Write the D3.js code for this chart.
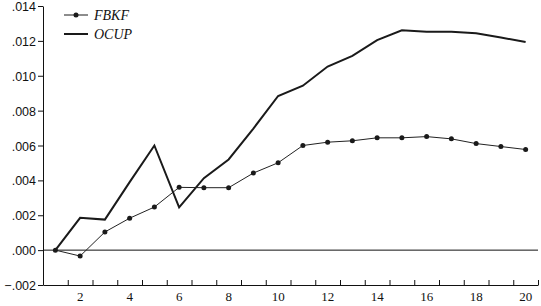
<!DOCTYPE html>
<html>
<head>
<meta charset="utf-8">
<script src="https://cdn.jsdelivr.net/npm/d3@7"></script>
<style>
  body { margin: 0; background: #fff; }
  svg { display: block; font-family: "Liberation Serif", "DejaVu Serif", serif; }
</style>
</head>
<body>
<div id="chart"></div>
<script>
// periods 1..20
const periods = d3.range(1, 21)
const fbkf = [0.0000, -0.00034, 0.00104, 0.00183, 0.00247, 0.00360, 0.00358, 0.00358, 0.00442, 0.00501,
  0.00600, 0.00619, 0.00627, 0.00644, 0.00644, 0.00651, 0.00638, 0.00611, 0.00594, 0.00577]
const ocup = [0.0000, 0.00185, 0.00175, 0.00390, 0.00600, 0.00245, 0.00413, 0.00520, 0.00697, 0.00884,
  0.00943, 0.01053, 0.01114, 0.01204, 0.01261, 0.01253, 0.01253, 0.01244, 0.01219, 0.01194]
const yTicks = [-0.002, 0, 0.002, 0.004, 0.006, 0.008, 0.010, 0.012, 0.014]
const xLabels = [2, 4, 6, 8, 10, 12, 14, 16, 18, 20]
const seriesNames = ['FBKF', 'OCUP']

const width = 541
const height = 306
const margin = { top: 6, right: 3, bottom: 21, left: 43 }

const svg = d3.select('#chart').append('svg')
  .attr('width', width)
  .attr('height', height)

const x = d3.scaleLinear()
  .domain([0.5, 20.5])
  .range([margin.left, width - margin.right])

const y = d3.scaleLinear()
  .domain([-0.002, 0.014])
  .range([height - margin.bottom, margin.top])

const fmt = d => {
  if (d === 0) return '.000'
  const s = d3.format('.3f')(Math.abs(d)).replace(/^0/, '')
  return d < 0 ? '\u2212' + s : s
}

// y axis
const yAxis = svg.append('g')
  .attr('transform', `translate(${margin.left},0)`)
  .call(d3.axisLeft(y).tickValues(yTicks).tickFormat(fmt).tickSize(5).tickSizeOuter(0))
yAxis.select('.domain').attr('stroke', '#111')
yAxis.selectAll('.tick line').attr('stroke', '#111')
yAxis.selectAll('.tick text')
  .attr('x', -7)
  .attr('dy', '0.36em')
  .style('font-size', '12.5px')
  .attr('fill', '#111')

// x axis: ticks at band boundaries, labels at even periods
const xAxis = svg.append('g')
  .attr('transform', `translate(0,${y(-0.002)})`)
  .call(d3.axisBottom(x).tickValues(d3.range(0.5, 21, 1)).tickFormat('').tickSize(-5).tickSizeOuter(0))
xAxis.select('.domain').attr('stroke', '#111')
xAxis.selectAll('.tick line').attr('stroke', '#111')

svg.append('g').selectAll('text')
  .data(xLabels)
  .join('text')
  .attr('x', d => x(d))
  .attr('y', y(-0.002) + 16)
  .attr('text-anchor', 'middle')
  .style('font-size', '13px')
  .attr('fill', '#111')
  .text(d => d)

// zero line
svg.append('line')
  .attr('x1', x(0.5))
  .attr('x2', x(20.5))
  .attr('y1', y(0))
  .attr('y2', y(0))
  .attr('stroke', '#111')
  .attr('stroke-width', 1)

const line = d3.line()
  .x((d, i) => x(periods[i]))
  .y(d => y(d))

svg.append('path')
  .datum(ocup)
  .attr('d', line)
  .attr('fill', 'none')
  .attr('stroke', '#1a1a1a')
  .attr('stroke-width', 2)

svg.append('path')
  .datum(fbkf)
  .attr('d', line)
  .attr('fill', 'none')
  .attr('stroke', '#222')
  .attr('stroke-width', 1)

svg.append('g').selectAll('circle')
  .data(fbkf)
  .join('circle')
  .attr('cx', (d, i) => x(periods[i]))
  .attr('cy', d => y(d))
  .attr('r', 2.5)
  .attr('fill', '#1a1a1a')

// legend
const legend = svg.append('g')
seriesNames.forEach((name, i) => {
  const ly = 15 + i * 19
  legend.append('line')
    .attr('x1', 64).attr('x2', 88)
    .attr('y1', ly).attr('y2', ly)
    .attr('stroke', '#1a1a1a')
    .attr('stroke-width', i === 0 ? 1 : 2)
  if (i === 0) {
    legend.append('circle').attr('cx', 76).attr('cy', ly).attr('r', 2.5).attr('fill', '#1a1a1a')
  }
  legend.append('text')
    .attr('x', 94)
    .attr('y', ly + 5)
    .style('font-size', '14px')
    .style('font-style', 'italic')
    .attr('fill', '#111')
    .text(name)
})
</script>
</body>
</html>
